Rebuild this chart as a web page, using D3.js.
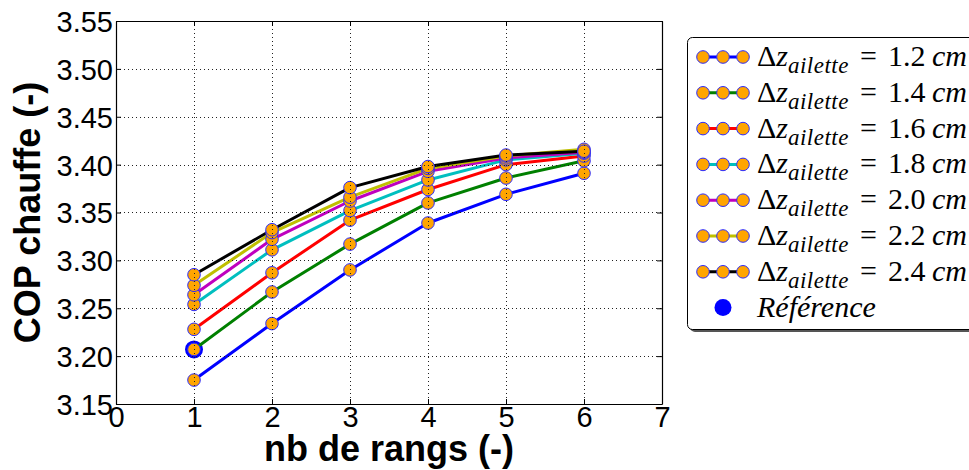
<!DOCTYPE html>
<html>
<head>
<meta charset="utf-8">
<script src="https://cdn.jsdelivr.net/npm/d3@7"></script>
<style>
  html, body { margin: 0; padding: 0; background: #fff; }
  svg { display: block; }
</style>
</head>
<body>
<svg id="chart" width="969" height="470"></svg>
<script>
// ---------- data ----------
const nbRangs = [1, 2, 3, 4, 5, 6];
const dzLabels = ["1.2", "1.4", "1.6", "1.8", "2.0", "2.2", "2.4"];
const seriesColors = ["#0000ff", "#008000", "#ff0000", "#00bfbf", "#bf00bf", "#bfbf00", "#000000"];
const cop12 = [3.175, 3.234, 3.290, 3.339, 3.369, 3.391];
const cop14 = [3.207, 3.267, 3.317, 3.360, 3.386, 3.404];
const cop16 = [3.228, 3.287, 3.342, 3.374, 3.400, 3.409];
const cop18 = [3.254, 3.311, 3.352, 3.384, 3.405, 3.412];
const cop20 = [3.264, 3.322, 3.362, 3.393, 3.407, 3.413];
const cop22 = [3.274, 3.329, 3.366, 3.396, 3.409, 3.416];
const cop24 = [3.285, 3.332, 3.376, 3.398, 3.410, 3.414];
const referenceX = [1];
const referenceY = [3.207];
const xTicks = [0, 1, 2, 3, 4, 5, 6, 7];
const yTicks = [3.15, 3.20, 3.25, 3.30, 3.35, 3.40, 3.45, 3.50, 3.55];
const xLabel = "nb de rangs (-)";
const yLabel = "COP chauffe (-)";
const refLabel = "Référence";

const allSeries = [cop12, cop14, cop16, cop18, cop20, cop22, cop24];

// ---------- layout ----------
const svg = d3.select("#chart");
const plot = { left: 116, right: 662, top: 21, bottom: 404 };
const x = d3.scaleLinear().domain([0, 7]).range([plot.left, plot.right]);
const y = d3.scaleLinear().domain([3.15, 3.55]).range([plot.bottom, plot.top]);

const tickFont = "'Liberation Sans', Arial, sans-serif";
const mathFont = "'Liberation Serif', 'DejaVu Serif', serif";

// lines
const line = d3.line().x((d, i) => x(nbRangs[i])).y(d => y(d));
const gData = svg.append("g");

// reference point (drawn first, under markers)
gData.selectAll("circle.ref").data(referenceY).enter().append("circle")
  .attr("class", "ref")
  .attr("cx", (d, i) => x(referenceX[i])).attr("cy", d => y(d))
  .attr("r", 9).attr("fill", "#0000ff");

allSeries.forEach((s, k) => {
  gData.append("path").datum(s)
    .attr("d", line).attr("fill", "none")
    .attr("stroke", seriesColors[k]).attr("stroke-width", 3)
    .attr("stroke-linejoin", "round");
});
allSeries.forEach((s, k) => {
  gData.selectAll(null).data(s).enter().append("circle")
    .attr("cx", (d, i) => x(nbRangs[i])).attr("cy", d => y(d))
    .attr("r", 6.3).attr("fill", "#ffa500")
    .attr("stroke", "#2b2bff").attr("stroke-width", 1);
});

// grid (on top, dotted)
const gGrid = svg.append("g").attr("stroke", "#222").attr("stroke-width", 1)
  .attr("stroke-dasharray", "1,3");
gGrid.selectAll(null).data(xTicks.slice(1, -1)).enter().append("line")
  .attr("x1", d => Math.round(x(d)) + 0.5).attr("x2", d => Math.round(x(d)) + 0.5)
  .attr("y1", plot.top).attr("y2", plot.bottom);
gGrid.selectAll(null).data(yTicks.slice(1, -1)).enter().append("line")
  .attr("y1", d => Math.round(y(d)) + 0.5).attr("y2", d => Math.round(y(d)) + 0.5)
  .attr("x1", plot.left).attr("x2", plot.right);

// axes (ticks inward)
const axB = svg.append("g").attr("transform", `translate(0,${plot.bottom})`)
  .call(d3.axisBottom(x).tickValues(xTicks).tickFormat(d3.format("d")).tickSizeInner(-5).tickSizeOuter(0).tickPadding(3));
const axL = svg.append("g").attr("transform", `translate(${plot.left},0)`)
  .call(d3.axisLeft(y).tickValues(yTicks).tickFormat(d3.format(".2f")).tickSizeInner(-5).tickSizeOuter(0).tickPadding(4));
const axT = svg.append("g").attr("transform", `translate(0,${plot.top})`)
  .call(d3.axisTop(x).tickValues(xTicks).tickFormat("").tickSizeInner(-5).tickSizeOuter(0));
const axR = svg.append("g").attr("transform", `translate(${plot.right},0)`)
  .call(d3.axisRight(y).tickValues(yTicks).tickFormat("").tickSizeInner(-5).tickSizeOuter(0));
[axB, axL, axT, axR].forEach(a => {
  a.select(".domain").attr("stroke", "#000").attr("stroke-width", 1.2);
  a.selectAll(".tick line").attr("stroke", "#000");
});
axB.selectAll(".tick text").attr("font-family", tickFont).attr("font-size", 29)
  .attr("fill", "#000").attr("dy", "0.72em").attr("y", 2);
axL.selectAll(".tick text").attr("font-family", tickFont).attr("font-size", 29)
  .attr("fill", "#000").attr("x", -3).attr("dy", "0.36em");

// axis titles
svg.append("text").attr("x", (plot.left + plot.right) / 2).attr("y", 461)
  .attr("text-anchor", "middle").attr("font-family", tickFont)
  .attr("font-weight", "bold").attr("font-size", 36).text(xLabel);
svg.append("text").attr("transform", `translate(40,${(plot.top + plot.bottom) / 2}) rotate(-90)`)
  .attr("text-anchor", "middle").attr("font-family", tickFont)
  .attr("font-weight", "bold").attr("font-size", 36).text(yLabel);

// ---------- legend ----------
const lg = svg.append("g");
lg.append("rect").attr("x", 690).attr("y", 40).attr("width", 300).attr("height", 292)
  .attr("rx", 5).attr("fill", "#555");
lg.append("rect").attr("x", 687.5).attr("y", 37.5).attr("width", 300).attr("height", 292)
  .attr("rx", 5).attr("fill", "#fff").attr("stroke", "#000").attr("stroke-width", 1);

const rowY = i => 57 + i * 35.8;
const markerXs = [703, 723, 743];
dzLabels.forEach((lab, i) => {
  const g = lg.append("g");
  g.append("line").attr("x1", markerXs[0]).attr("x2", markerXs[2])
    .attr("y1", rowY(i)).attr("y2", rowY(i))
    .attr("stroke", seriesColors[i]).attr("stroke-width", 3);
  markerXs.forEach(mx => g.append("circle").attr("cx", mx).attr("cy", rowY(i))
    .attr("r", 6.3).attr("fill", "#ffa500").attr("stroke", "#2b2bff").attr("stroke-width", 1));
  const t = g.append("text").attr("x", 757).attr("y", rowY(i) + 9)
    .attr("font-family", mathFont).attr("font-size", 30).attr("fill", "#000");
  t.append("tspan").text("Δ");
  t.append("tspan").attr("font-style", "italic").text("z");
  t.append("tspan").attr("font-style", "italic").attr("font-size", 23).attr("dy", 7)
    .attr("letter-spacing", 0.5).text("ailette");
  g.append("text").attr("x", 860).attr("y", rowY(i) + 9)
    .attr("font-family", mathFont).attr("font-size", 30).text("=");
  g.append("text").attr("x", 888).attr("y", rowY(i) + 9)
    .attr("font-family", mathFont).attr("font-size", 30).text(lab);
  g.append("text").attr("x", 932).attr("y", rowY(i) + 9)
    .attr("font-family", mathFont).attr("font-size", 30).attr("font-style", "italic").text("cm");
});
lg.append("circle").attr("cx", 723).attr("cy", rowY(7)).attr("r", 8.5).attr("fill", "#0000ff");
lg.append("text").attr("x", 757).attr("y", rowY(7) + 9)
  .attr("font-family", mathFont).attr("font-size", 30).attr("font-style", "italic").text(refLabel);
</script>
</body>
</html>
